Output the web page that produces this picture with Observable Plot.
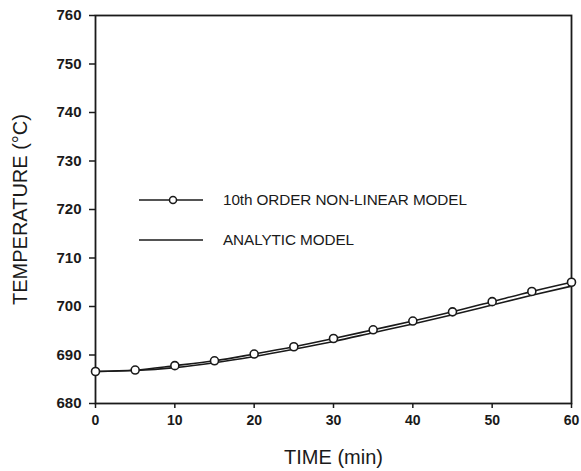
<!DOCTYPE html>
<html>
<head>
<meta charset="utf-8">
<script src="https://cdn.jsdelivr.net/npm/d3@7"></script>
<script src="https://cdn.jsdelivr.net/npm/@observablehq/plot@0.6"></script>
<style>
  html, body { margin: 0; padding: 0; background: #fff; }
  #wrap { position: relative; width: 581px; height: 471px; font-family: "Liberation Sans", Arial, sans-serif; }
  #legend { position: absolute; left: 0; top: 0; pointer-events: none; }
</style>
</head>
<body>
<div id="wrap"></div>
<script>
// ---- data ----
const time = [0, 5, 10, 15, 20, 25, 30, 35, 40, 45, 50, 55, 60];
const nonlinear = [686.6, 686.9, 687.8, 688.8, 690.2, 691.7, 693.4, 695.2, 697.0, 698.9, 701.0, 703.1, 705.0];
const analytic  = [686.6, 686.8, 687.4, 688.4, 689.7, 691.2, 692.8, 694.6, 696.4, 698.3, 700.3, 702.3, 704.2];
const xTicks = [0, 10, 20, 30, 40, 50, 60];
const yTicks = [680, 690, 700, 710, 720, 730, 740, 750, 760];
const seriesNames = ["10th ORDER NON-LINEAR MODEL", "ANALYTIC MODEL"];
const xTitle = "TIME (min)";
const yTitle = "TEMPERATURE (°C)";

const nl = time.map((t, i) => ({t, v: nonlinear[i]}));
const an = time.map((t, i) => ({t, v: analytic[i]}));

const ink = "#1a1a1a";
const chart = Plot.plot({
  width: 581,
  height: 471,
  marginLeft: 95,
  marginRight: 10,
  marginTop: 15,
  marginBottom: 68,
  style: {fontFamily: "'Liberation Sans', Arial, sans-serif", color: ink, background: "#fff"},
  x: {domain: [0, 60], ticks: xTicks},
  y: {domain: [680, 760], ticks: yTicks},
  marks: [
    Plot.axisX({ticks: xTicks, tickSize: 5, tickPadding: 7, fontSize: 14, fontWeight: "bold", label: null, stroke: ink, strokeWidth: 1.5,
      tickFormat: d => String(d), style: "letter-spacing:2.5px"}),
    Plot.axisY({ticks: yTicks, tickSize: 6, tickPadding: 8, fontSize: 15, fontWeight: "bold", label: null, stroke: ink, strokeWidth: 1.5,
      tickFormat: d => String(d), style: "letter-spacing:-0.4px"}),
    Plot.frame({stroke: ink, strokeWidth: 1.8}),
    Plot.line(an, {x: "t", y: "v", stroke: ink, strokeWidth: 1.6, curve: "monotone-x"}),
    Plot.line(nl, {x: "t", y: "v", stroke: ink, strokeWidth: 1.6, curve: "monotone-x"}),
    Plot.dot(nl, {x: "t", y: "v", r: 4, fill: "#fff", stroke: ink, strokeWidth: 1.6}),
    Plot.text([xTitle], {frameAnchor: "bottom", dy: 54, text: d => d, fontSize: 20, lineAnchor: "middle", fill: ink}),
    Plot.text([yTitle], {frameAnchor: "left", dx: -75, rotate: -90, text: d => d, fontSize: 20, textAnchor: "middle", lineAnchor: "middle", fill: ink})
  ]
});
document.getElementById("wrap").appendChild(chart);

// legend overlay
const svg = d3.select("#wrap").append("svg").attr("id", "legend").attr("width", 581).attr("height", 471);
const rows = [{y: 200, dot: true}, {y: 240, dot: false}];
rows.forEach((r, i) => {
  svg.append("line").attr("x1", 139).attr("x2", 203).attr("y1", r.y).attr("y2", r.y)
    .attr("stroke", ink).attr("stroke-width", 1.6);
  if (r.dot) svg.append("circle").attr("cx", 173).attr("cy", r.y).attr("r", 3.5)
    .attr("fill", "#fff").attr("stroke", ink).attr("stroke-width", 1.5);
  svg.append("text").attr("x", 223).attr("y", r.y).attr("dy", "0.35em")
    .attr("font-size", 15.3).attr("letter-spacing", "-0.1px").attr("fill", ink)
    .attr("font-family", "'Liberation Sans', Arial, sans-serif")
    .text(seriesNames[i]);
});
</script>
</body>
</html>
